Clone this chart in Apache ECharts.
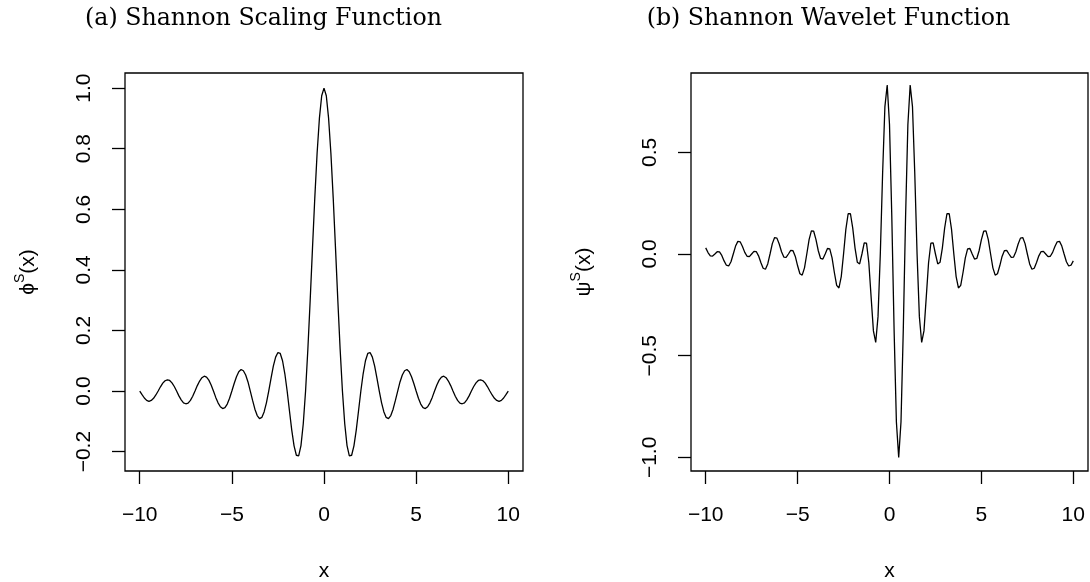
<!DOCTYPE html>
<html>
<head>
<meta charset="utf-8">
<script src="https://cdn.jsdelivr.net/npm/echarts@6/dist/echarts.min.js"></script>
<style>
html,body{margin:0;padding:0;background:#fff;}
#c{width:1090px;height:582px;}
</style>
</head>
<body>
<div id="c"></div>
<script>
// x sample positions (shared by both panels)
const xs = [
-10,-9.875,-9.75,-9.625,-9.5,-9.375,-9.25,-9.125,
-9,-8.875,-8.75,-8.625,-8.5,-8.375,-8.25,-8.125,
-8,-7.875,-7.75,-7.625,-7.5,-7.375,-7.25,-7.125,
-7,-6.875,-6.75,-6.625,-6.5,-6.375,-6.25,-6.125,
-6,-5.875,-5.75,-5.625,-5.5,-5.375,-5.25,-5.125,
-5,-4.875,-4.75,-4.625,-4.5,-4.375,-4.25,-4.125,
-4,-3.875,-3.75,-3.625,-3.5,-3.375,-3.25,-3.125,
-3,-2.875,-2.75,-2.625,-2.5,-2.375,-2.25,-2.125,
-2,-1.875,-1.75,-1.625,-1.5,-1.375,-1.25,-1.125,
-1,-0.875,-0.75,-0.625,-0.5,-0.375,-0.25,-0.125,
0,
0.125,0.25,0.375,0.5,0.625,0.75,0.875,1,
1.125,1.25,1.375,1.5,1.625,1.75,1.875,2,
2.125,2.25,2.375,2.5,2.625,2.75,2.875,3,
3.125,3.25,3.375,3.5,3.625,3.75,3.875,4,
4.125,4.25,4.375,4.5,4.625,4.75,4.875,5,
5.125,5.25,5.375,5.5,5.625,5.75,5.875,6,
6.125,6.25,6.375,6.5,6.625,6.75,6.875,7,
7.125,7.25,7.375,7.5,7.625,7.75,7.875,8,
8.125,8.25,8.375,8.5,8.625,8.75,8.875,9,
9.125,9.25,9.375,9.5,9.625,9.75,9.875,10
];

// (a) Shannon scaling function values
const phiS = [
0,-0.012,-0.023,-0.031,-0.034,-0.031,-0.024,-0.013,
0,0.014,0.026,0.034,0.037,0.035,0.027,0.015,
0,-0.016,-0.029,-0.039,-0.042,-0.040,-0.031,-0.017,
0,0.018,0.033,0.044,0.049,0.046,0.036,0.020,
0,-0.021,-0.039,-0.052,-0.058,-0.055,-0.043,-0.024,
0,0.025,0.047,0.064,0.071,0.067,0.053,0.030,
0,-0.031,-0.060,-0.081,-0.091,-0.087,-0.069,-0.039,
0,0.042,0.082,0.112,0.127,0.124,0.100,0.057,
0,-0.065,-0.129,-0.181,-0.212,-0.214,-0.180,-0.108,
0,0.139,0.300,0.471,0.637,0.784,0.900,0.975,
1,
0.975,0.900,0.784,0.637,0.471,0.300,0.139,0,
-0.108,-0.180,-0.214,-0.212,-0.181,-0.129,-0.065,0,
0.057,0.100,0.124,0.127,0.112,0.082,0.042,0,
-0.039,-0.069,-0.087,-0.091,-0.081,-0.060,-0.031,0,
0.030,0.053,0.067,0.071,0.064,0.047,0.025,0,
-0.024,-0.043,-0.055,-0.058,-0.052,-0.039,-0.021,0,
0.020,0.036,0.046,0.049,0.044,0.033,0.018,0,
-0.017,-0.031,-0.040,-0.042,-0.039,-0.029,-0.016,0,
0.015,0.027,0.035,0.037,0.034,0.026,0.014,0,
-0.013,-0.024,-0.031,-0.034,-0.031,-0.023,-0.012,0
];

// (b) Shannon wavelet function values
const psiS = [
0.030,0.007,-0.009,-0.010,
0,0.011,0.010,-0.007,-0.034,-0.055,-0.059,-0.038,
0,0.039,0.062,0.060,0.037,0.008,-0.011,-0.013,
0,0.013,0.012,-0.009,-0.042,-0.070,-0.075,-0.049,
0,0.051,0.081,0.078,0.049,0.011,-0.015,-0.017,
0,0.018,0.016,-0.012,-0.058,-0.097,-0.104,-0.068,
0,0.071,0.114,0.112,0.071,0.016,-0.022,-0.025,
0,0.027,0.025,-0.019,-0.091,-0.154,-0.167,-0.111,
0,0.121,0.198,0.198,0.127,0.029,-0.041,-0.049,
0,0.055,0.053,-0.043,-0.212,-0.378,-0.435,-0.308,
0,0.396,0.725,0.831,0.637,0.184,-0.373,-0.826,
-1,
-0.826,-0.373,0.184,0.637,0.831,0.725,0.396,0,
-0.308,-0.435,-0.378,-0.212,-0.043,0.053,0.055,0,
-0.049,-0.041,0.029,0.127,0.198,0.198,0.121,0,
-0.111,-0.167,-0.154,-0.091,-0.019,0.025,0.027,0,
-0.025,-0.022,0.016,0.071,0.112,0.114,0.071,0,
-0.068,-0.104,-0.097,-0.058,-0.012,0.016,0.018,0,
-0.017,-0.015,0.011,0.049,0.078,0.081,0.051,0,
-0.049,-0.075,-0.070,-0.042,-0.009,0.012,0.013,0,
-0.013,-0.011,0.008,0.037,0.060,0.062,0.039,0,
-0.038,-0.059,-0.055,-0.034
];

const xTicks = [-10, -5, 0, 5, 10];
const yTicksA = [-0.2, 0, 0.2, 0.4, 0.6, 0.8, 1.0];
const yTicksB = [-1.0, -0.5, 0, 0.5];
const titles = ['(a) Shannon Scaling Function', '(b) Shannon Wavelet Function'];

const SANS = '"Liberation Sans", Arial, Helvetica, sans-serif';
const fmt = (v, d) => (d ? Number(v).toFixed(d) : String(Math.round(v))).replace('-', '\u2212');

function xAxisFor(gi) {
  return {
    type: 'value', gridIndex: gi, min: -10.8, max: 10.8,
    axisLine: { show: false, onZero: false }, splitLine: { show: false },
    axisTick: { show: true, customValues: xTicks, length: 13, lineStyle: { color: '#000', width: 1.3 } },
    axisLabel: { customValues: xTicks, margin: 34, fontSize: 21, fontFamily: SANS, color: '#000',
      formatter: v => fmt(v, 0) },
    name: 'x', nameLocation: 'middle', nameGap: 90,
    nameTextStyle: { fontSize: 21, fontFamily: SANS, color: '#000' }
  };
}
function yAxisFor(gi, min, max, ticks, sym, gap) {
  return {
    type: 'value', gridIndex: gi, min: min, max: max,
    axisLine: { show: false, onZero: false }, splitLine: { show: false },
    axisTick: { show: true, customValues: ticks, length: 13, lineStyle: { color: '#000', width: 1.3 } },
    axisLabel: { customValues: ticks, rotate: 90, margin: 30, fontSize: 21, fontFamily: SANS, color: '#000',
      formatter: v => fmt(v, 1) },
    name: '{a|' + sym + '}{s|S}{a|(x)}', nameLocation: 'middle', nameRotate: 90, nameGap: gap,
    nameTextStyle: {
      color: '#000',
      rich: {
        a: { fontSize: 21, fontFamily: SANS, color: '#000' },
        s: { fontSize: 14, fontFamily: SANS, color: '#000', padding: [0, 0, 16, 0] }
      }
    }
  };
}

const gridBase = { show: true, borderColor: '#000', borderWidth: 1.3, backgroundColor: 'transparent',
  containLabel: false, outerBoundsMode: 'none' };

const chart = echarts.init(document.getElementById('c'), null, { renderer: 'canvas' });
chart.setOption({
  backgroundColor: '#fff',
  animation: false,
  graphic: [
    { type: 'text', x: 263.5, y: 19, style: { text: titles[0], font: '23.7px "DejaVu Serif", serif', fill: '#000', textAlign: 'center', textVerticalAlign: 'middle' } },
    { type: 'text', x: 828.5, y: 19, style: { text: titles[1], font: '23.7px "DejaVu Serif", serif', fill: '#000', textAlign: 'center', textVerticalAlign: 'middle' } }
  ],
  grid: [
    Object.assign({ left: 125, top: 73, width: 398, height: 398 }, gridBase),
    Object.assign({ left: 691, top: 73, width: 397, height: 398 }, gridBase)
  ],
  xAxis: [xAxisFor(0), xAxisFor(1)],
  yAxis: [
    yAxisFor(0, -0.264, 1.05, yTicksA, '\u03D5', 82),
    yAxisFor(1, -1.067, 0.89, yTicksB, '\u03C8', 92)
  ],
  series: [
    { type: 'line', xAxisIndex: 0, yAxisIndex: 0, data: xs.map((x, i) => [x, phiS[i]]),
      showSymbol: false, lineStyle: { color: '#000', width: 1.3 }, silent: true },
    { type: 'line', xAxisIndex: 1, yAxisIndex: 1, data: xs.map((x, i) => [x, psiS[i]]),
      showSymbol: false, lineStyle: { color: '#000', width: 1.3 }, silent: true }
  ]
});
</script>
</body>
</html>
